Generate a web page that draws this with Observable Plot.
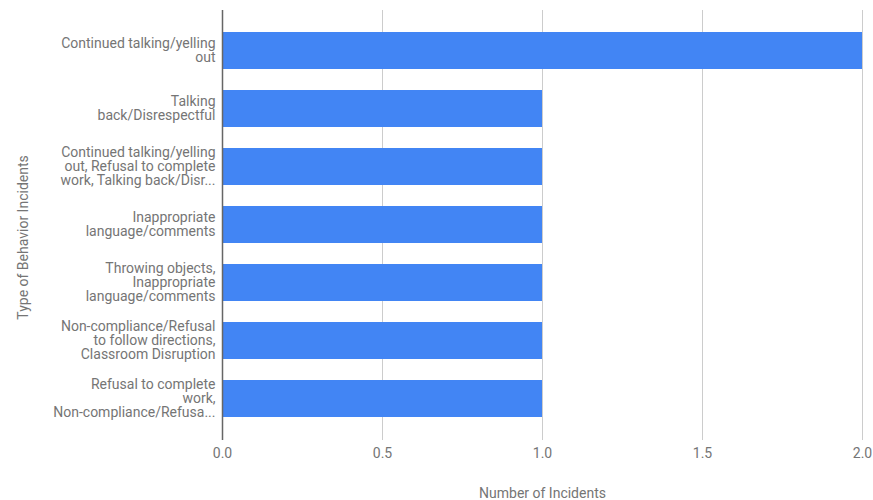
<!DOCTYPE html>
<html>
<head>
<meta charset="utf-8">
<script src="https://cdn.jsdelivr.net/npm/d3@7"></script>
<script src="https://cdn.jsdelivr.net/npm/@observablehq/plot@0.6"></script>
<style>
  html, body { margin: 0; padding: 0; background: #fff; }
  #chart svg { display: block; }
</style>
</head>
<body>
<div id="chart"></div>
<script>
const categories = [
  "Continued talking/yelling\nout",
  "Talking\nback/Disrespectful",
  "Continued talking/yelling\nout, Refusal to complete\nwork, Talking back/Disr...",
  "Inappropriate\nlanguage/comments",
  "Throwing objects,\nInappropriate\nlanguage/comments",
  "Non-compliance/Refusal\nto follow directions,\nClassroom Disruption",
  "Refusal to complete\nwork,\nNon-compliance/Refusa..."
];
const incidents = [2, 1, 1, 1, 1, 1, 1];
const xTicks = [0, 0.5, 1, 1.5, 2];
const xTitle = "Number of Incidents";
const yTitle = "Type of Behavior Incidents";

const data = categories.map((c, i) => ({category: c, value: incidents[i]}));
const textColor = "#757575";

const chart = Plot.plot({
  width: 873,
  height: 500,
  marginLeft: 222,
  marginRight: 11,
  marginTop: 10,
  marginBottom: 60,
  style: {fontFamily: "Roboto, sans-serif", fontSize: "14px", color: textColor, background: "#fff"},
  x: {domain: [0, 2]},
  y: {domain: categories, paddingInner: 0.354, paddingOuter: 0.33},
  marks: [
    Plot.gridX(xTicks, {stroke: "#cccccc", strokeOpacity: 1, strokeWidth: 1}),
    Plot.barX(data, {y: "category", x: "value", fill: "#4285f4"}),
    Plot.ruleX([0], {stroke: "#666666", strokeWidth: 1.5}),
    Plot.axisX(xTicks, {
      tickSize: 0, tickPadding: 8, tickFormat: d3.format(".1f"),
      fill: textColor, fontSize: 14, label: null
    }),
    Plot.axisY({
      tickSize: 0, tickPadding: 7, lineHeight: 1,
      fill: textColor, fontSize: 14, label: null
    }),
    Plot.text([xTitle], {
      frameAnchor: "bottom", lineAnchor: "middle", textAnchor: "middle",
      dy: 53, fill: textColor, fontSize: 14
    }),
    Plot.text([yTitle], {
      frameAnchor: "left", lineAnchor: "middle", textAnchor: "middle",
      rotate: -90, dx: -199, dy: 12, fill: textColor, fontSize: 14
    })
  ]
});
document.getElementById("chart").appendChild(chart);
</script>
</body>
</html>
